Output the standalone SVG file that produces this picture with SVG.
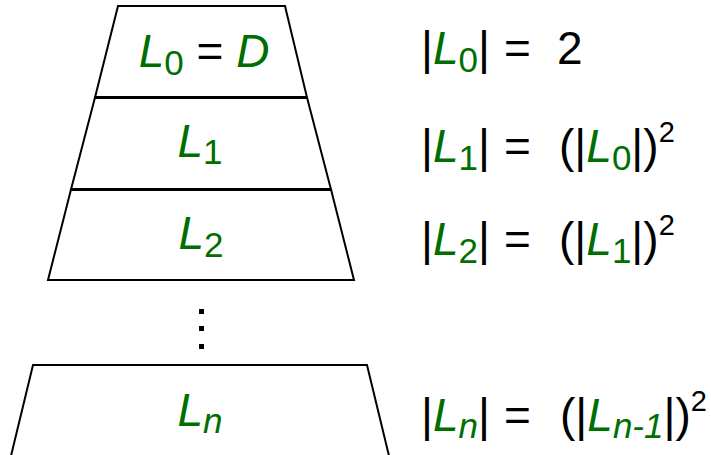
<svg xmlns="http://www.w3.org/2000/svg" width="711" height="455" viewBox="0 0 711 455">
<style>
.shape{fill:#fff;stroke:#000;stroke-width:2;stroke-linejoin:miter}
.div{stroke:#000;stroke-width:3}
.t{font-family:"Liberation Sans",Arial,sans-serif;font-size:46px;fill:#000}
.g{fill:#006e00}
.i{font-style:italic}
.sub{font-size:35px}
.sup{font-size:29px}
</style>
<rect width="711" height="455" fill="#fff"/>
<g id="layer0">
<polygon class="shape" points="118,6 285,6 307,97.5 95,97.5"/>
<text class="t" x="204" y="67" text-anchor="middle"><tspan class="g i">L</tspan><tspan class="g sub" dy="8">0</tspan><tspan dy="-8"> = </tspan><tspan class="g i">D</tspan></text>
</g>
<g id="layer1">
<polygon class="shape" points="95,97.5 307,97.5 331,189.5 71,189.5"/>
<line class="div" x1="95" y1="97.5" x2="307" y2="97.5"/>
<text class="t" x="200" y="157" text-anchor="middle"><tspan class="g i">L</tspan><tspan class="g sub" dy="7">1</tspan></text>
</g>
<g id="layer2">
<polygon class="shape" points="71,189.5 331,189.5 354,280 48,280"/>
<line class="div" x1="71" y1="189.5" x2="331" y2="189.5"/>
<text class="t" x="201" y="249" text-anchor="middle"><tspan class="g i">L</tspan><tspan class="g sub" dy="8">2</tspan></text>
</g>
<g id="dots">
<rect x="199" y="309" width="5" height="5"/>
<rect x="199" y="326" width="5" height="5"/>
<rect x="199" y="344" width="5" height="5"/>
</g>
<g id="layern">
<polyline class="shape" points="10,460 33,365 367,365 390,460"/>
<text class="t" x="200" y="426" text-anchor="middle"><tspan class="g i">L</tspan><tspan class="g sub i" dy="7">n</tspan></text>
</g>
<g id="eq0">
<text class="t" x="421" y="64">|<tspan class="g i">L</tspan><tspan class="g sub" dy="8">0</tspan><tspan dy="-8">|</tspan><tspan x="504">=</tspan><tspan x="557">2</tspan></text>
</g>
<g id="eq1">
<text class="t" x="421" y="162">|<tspan class="g i">L</tspan><tspan class="g sub" dy="8">1</tspan><tspan dy="-8">|</tspan><tspan x="504">=</tspan><tspan x="559">(|</tspan><tspan class="g i">L</tspan><tspan class="g sub" dy="8">0</tspan><tspan dy="-8">|)</tspan><tspan class="sup" dy="-20">2</tspan></text>
</g>
<g id="eq2">
<text class="t" x="421" y="255">|<tspan class="g i">L</tspan><tspan class="g sub" dy="8">2</tspan><tspan dy="-8">|</tspan><tspan x="504">=</tspan><tspan x="559">(|</tspan><tspan class="g i">L</tspan><tspan class="g sub" dy="8">1</tspan><tspan dy="-8">|)</tspan><tspan class="sup" dy="-20">2</tspan></text>
</g>
<g id="eqn">
<text class="t" x="421" y="431">|<tspan class="g i">L</tspan><tspan class="g sub i" dy="7">n</tspan><tspan dy="-7">|</tspan><tspan x="504">=</tspan><tspan x="560">(|</tspan><tspan class="g i">L</tspan><tspan class="g sub i" dy="7">n-1</tspan><tspan dy="-7">|)</tspan><tspan class="sup" dy="-20">2</tspan></text>
</g>
</svg>
